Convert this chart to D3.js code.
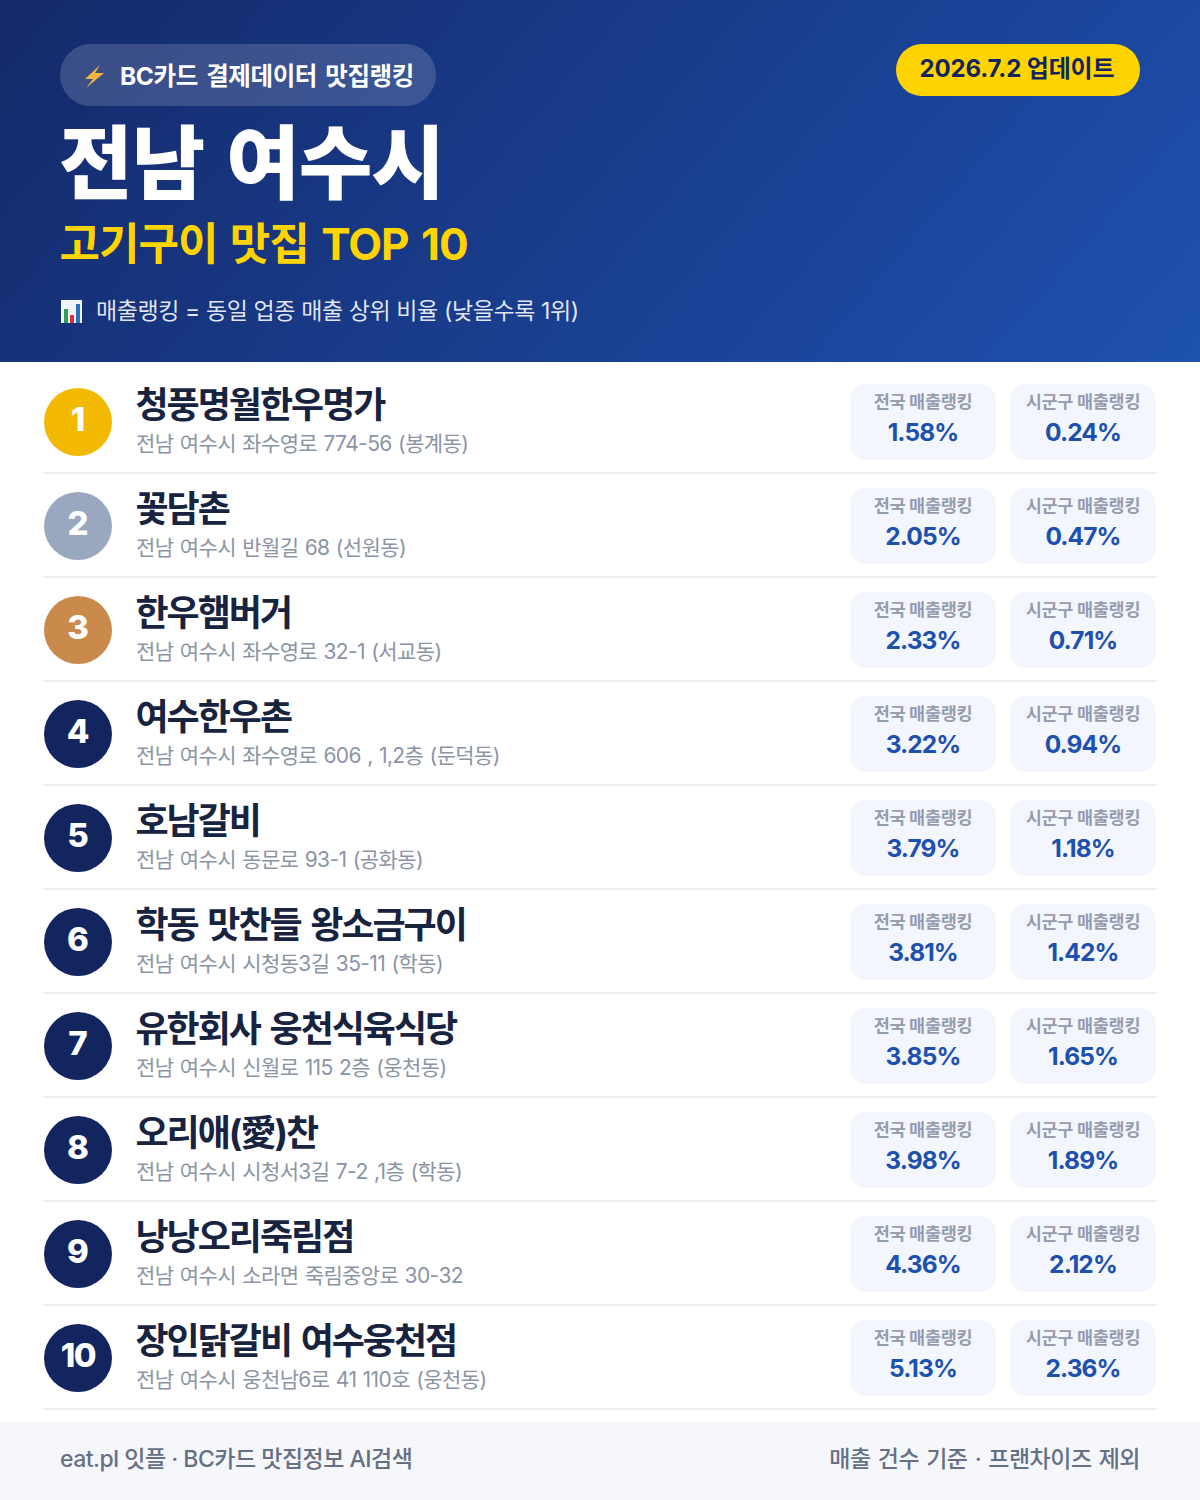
<!DOCTYPE html>
<html>
<head>
<meta charset="utf-8">
<script src="https://cdn.jsdelivr.net/npm/d3@7"></script>
<style>
html, body { margin: 0; padding: 0; background: #fff; }
svg { display: block; }
text { font-family: Inter, "Noto Sans CJK KR", sans-serif; }
</style>
</head>
<body>
<script>
// data
var ranks = [1, 2, 3, 4, 5, 6, 7, 8, 9, 10];
var names = ["청풍명월한우명가", "꽃담촌", "한우햄버거", "여수한우촌", "호남갈비", "학동 맛찬들 왕소금구이", "유한회사 웅천식육식당", "오리애(愛)찬", "낭낭오리죽림점", "장인닭갈비 여수웅천점"];
var addresses = ["전남 여수시 좌수영로 774-56 (봉계동)", "전남 여수시 반월길 68 (선원동)", "전남 여수시 좌수영로 32-1 (서교동)", "전남 여수시 좌수영로 606 , 1,2층 (둔덕동)", "전남 여수시 동문로 93-1 (공화동)", "전남 여수시 시청동3길 35-11 (학동)", "전남 여수시 신월로 115 2층 (웅천동)", "전남 여수시 시청서3길 7-2 ,1층 (학동)", "전남 여수시 소라면 죽림중앙로 30-32", "전남 여수시 웅천남6로 41 110호 (웅천동)"];
var national = [1.58, 2.05, 2.33, 3.22, 3.79, 3.81, 3.85, 3.98, 4.36, 5.13];
var local = [0.24, 0.47, 0.71, 0.94, 1.18, 1.42, 1.65, 1.89, 2.12, 2.36];
var cardLabels = ["전국 매출랭킹", "시군구 매출랭킹"];

var width = 1200, height = 1500;

var svg = d3.select("body").append("svg")
    .attr("width", width)
    .attr("height", height);

var defs = svg.append("defs");
var grad = defs.append("linearGradient")
    .attr("id", "headerGrad")
    .attr("gradientUnits", "userSpaceOnUse")
    .attr("x1", 181).attr("y1", -181)
    .attr("x2", 1019).attr("y2", 543);
grad.append("stop").attr("offset", "0").attr("stop-color", "#142a6b");
grad.append("stop").attr("offset", "1").attr("stop-color", "#1e50ae");

// row positions
var rowY = d3.scaleBand().domain(ranks).range([370, 1410]);
var circleColor = d3.scaleOrdinal().domain([1, 2, 3]).range(["#f2b900", "#9aa8bf", "#c98a4b"]).unknown("#12255f");

// header
svg.append("rect").attr("width", width).attr("height", 362).attr("fill", "url(#headerGrad)");

svg.append("rect")
    .attr("x", 60).attr("y", 44).attr("width", 376).attr("height", 62).attr("rx", 31)
    .attr("fill", "#fff").attr("fill-opacity", 0.16);

// lightning icon
svg.append("path")
    .attr("d", "M100 65 L85 79 L93 79 L86 88 L104 73 L95 73 Z")
    .attr("fill", "#f6b53c");

svg.append("text").attr("x", 120).attr("y", 85)
    .attr("font-size", 24.5).attr("font-weight", 700).attr("fill", "#fff")
    .attr("letter-spacing", -0.4).attr("word-spacing", 3)
    .text("BC카드 결제데이터 맛집랭킹");

svg.append("rect")
    .attr("x", 896).attr("y", 44).attr("width", 244).attr("height", 52).attr("rx", 26)
    .attr("fill", "#ffd400");
svg.append("text").attr("x", 1017).attr("y", 77).attr("text-anchor", "middle")
    .attr("font-size", 24).attr("font-weight", 700).attr("fill", "#12255f").attr("letter-spacing", -0.15)
    .text("2026.7.2 업데이트");

svg.append("text").attr("x", 59).attr("y", 192)
    .attr("font-size", 80).attr("font-weight", 900).attr("fill", "#fff")
    .attr("letter-spacing", -1).attr("word-spacing", 7)
    .text("전남 여수시");

svg.append("text").attr("x", 59.5).attr("y", 260)
    .attr("font-size", 44).attr("font-weight", 700).attr("fill", "#ffd400")
    .attr("letter-spacing", -1).attr("word-spacing", 3)
    .text("고기구이 맛집 TOP 10");

// bar chart icon
var icon = svg.append("g").attr("transform", "translate(61,300)");
icon.append("rect").attr("width", 21).attr("height", 23).attr("fill", "#f2f4f7");
icon.append("rect").attr("x", 3).attr("y", 9).attr("width", 4).attr("height", 14).attr("fill", "#2f9e58");
icon.append("rect").attr("x", 9).attr("y", 15).attr("width", 4).attr("height", 8).attr("fill", "#d8333c");
icon.append("rect").attr("x", 15).attr("y", 4).attr("width", 4).attr("height", 19).attr("fill", "#2c6fbf");

svg.append("text").attr("x", 96).attr("y", 319)
    .attr("font-size", 23).attr("font-weight", 400).attr("fill", "#fff").attr("fill-opacity", 0.88)
    .attr("letter-spacing", -0.4).attr("word-spacing", 0)
    .text("매출랭킹 = 동일 업종 매출 상위 비율 (낮을수록 1위)");

// rows
var rows = svg.selectAll("g.row")
    .data(ranks)
  .enter().append("g")
    .attr("class", "row")
    .attr("transform", function(d) { return "translate(0," + rowY(d) + ")"; });

rows.append("rect")
    .attr("x", 44).attr("y", 102).attr("width", 1112).attr("height", 2)
    .attr("fill", "#eceef1");

rows.append("circle")
    .attr("cx", 78).attr("cy", 52).attr("r", 34)
    .attr("fill", function(d) { return circleColor(d); });

rows.append("text")
    .attr("x", 78).attr("y", 61).attr("text-anchor", "middle")
    .attr("font-size", 33)
    .attr("font-weight", 800).attr("fill", "#fff")
    .attr("letter-spacing", function(d) { return d === 10 ? -1.5 : 0; })
    .text(function(d) { return d; });

rows.append("text")
    .attr("x", 135.5).attr("y", 48)
    .attr("font-size", 36).attr("font-weight", 700).attr("fill", "#18233f")
    .attr("letter-spacing", -2).attr("word-spacing", 3)
    .text(function(d, i) { return names[i]; });

rows.append("text")
    .attr("x", 136).attr("y", 81)
    .attr("font-size", 21).attr("font-weight", 400).attr("fill", "#8b94a5")
    .attr("letter-spacing", -0.6).attr("word-spacing", 1)
    .text(function(d, i) { return addresses[i]; });

// ranking cards
[national, local].forEach(function(values, c) {
    var x0 = 850 + c * 160;
    rows.append("rect")
        .attr("x", x0).attr("y", 14).attr("width", 146).attr("height", 76).attr("rx", 16)
        .attr("fill", "#f3f6fd");
    rows.append("text")
        .attr("x", x0 + 73).attr("y", 37.5).attr("text-anchor", "middle")
        .attr("font-size", 17.5).attr("font-weight", 700).attr("fill", "#959dad").attr("letter-spacing", -0.3)
        .text(cardLabels[c]);
    rows.append("text")
        .attr("x", x0 + 73).attr("y", 71).attr("text-anchor", "middle")
        .attr("font-size", 24.5).attr("font-weight", 700).attr("fill", "#1e50ae").attr("letter-spacing", -0.9)
        .text(function(d, i) { return values[i].toFixed(2) + "%"; });
});

// footer
svg.append("rect").attr("x", 0).attr("y", 1422).attr("width", width).attr("height", 78).attr("fill", "#f5f7fb");
svg.append("text").attr("x", 60).attr("y", 1467)
    .attr("font-size", 23).attr("font-weight", 500).attr("fill", "#667085").attr("letter-spacing", -0.5)
    .text("eat.pl 잇플 · BC카드 맛집정보 AI검색");
svg.append("text").attr("x", 1140).attr("y", 1467).attr("text-anchor", "end")
    .attr("font-size", 23).attr("font-weight", 500).attr("fill", "#667085").attr("letter-spacing", -0.5).attr("word-spacing", 1.5)
    .text("매출 건수 기준 · 프랜차이즈 제외");
</script>
</body>
</html>
